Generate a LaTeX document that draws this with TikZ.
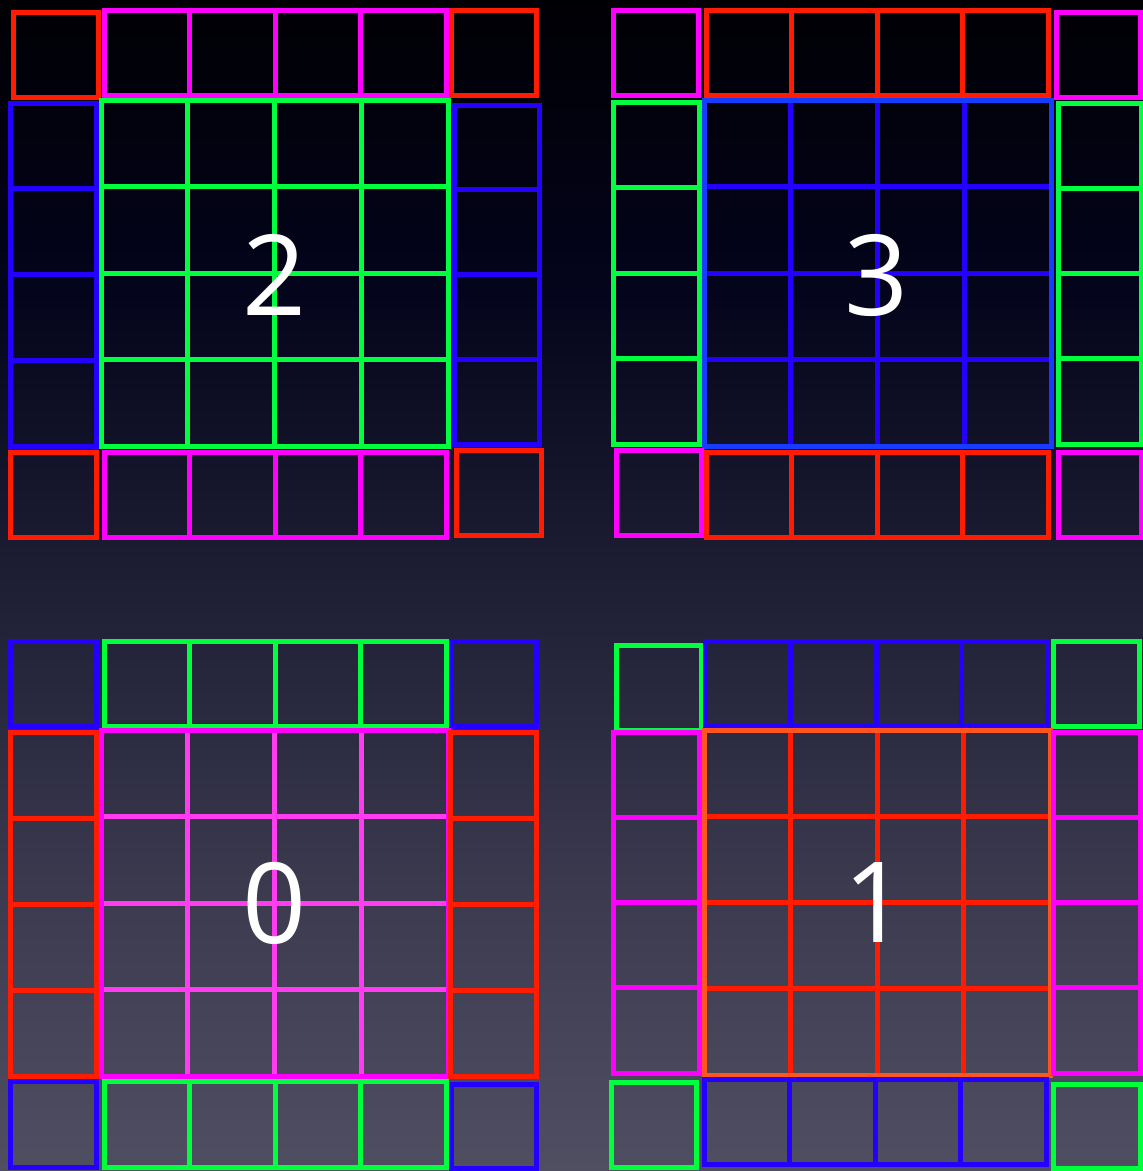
\documentclass[tikz,border=0pt]{standalone}
\usepackage{fontspec}
\setmainfont{Open Sans}
\definecolor{cred}{RGB}{255,28,0}
\definecolor{cmag}{RGB}{255,0,255}
\definecolor{cmagl}{RGB}{255,60,240}
\definecolor{cgreen}{RGB}{0,255,60}
\definecolor{cblue}{RGB}{36,0,255}
\definecolor{cbluel}{RGB}{24,60,255}
\definecolor{corange}{RGB}{255,85,30}
\definecolor{bgtop}{RGB}{0,0,4}
\definecolor{bgq}{RGB}{4,4,28}
\definecolor{bgmid}{RGB}{30,30,52}
\definecolor{bgl}{RGB}{58,57,78}
\definecolor{bgbot}{RGB}{80,79,98}
\pgfdeclareverticalshading{bgshade}{100bp}{color(0bp)=(bgbot); color(25bp)=(bgbot); color(37.5bp)=(bgl); color(50bp)=(bgmid); color(62.5bp)=(bgq); color(75bp)=(bgtop); color(100bp)=(bgtop)}
\newcommand\myhrow[5]{%
  \draw[#1] (#2,#3) rectangle (#4,#5);
  \foreach \i in {1,2,3}{\draw[#1] ({#2+(#4-#2)*\i/4},#3) -- ({#2+(#4-#2)*\i/4},#5);}%
}
\newcommand\myvcol[5]{%
  \draw[#1] (#2,#3) rectangle (#4,#5);
  \foreach \i in {1,2,3}{\draw[#1] (#2,{#3+(#5-#3)*\i/4}) -- (#4,{#3+(#5-#3)*\i/4});}%
}
\newcommand\mygrid[6]{% inner color, outer color, x1,y1,x2,y2
  \foreach \i in {1,2,3}{%
    \draw[#1] ({#3+(#5-#3)*\i/4},#4) -- ({#3+(#5-#3)*\i/4},#6);
    \draw[#1] (#3,{#4+(#6-#4)*\i/4}) -- (#5,{#4+(#6-#4)*\i/4});}%
  \draw[#2] (#3,#4) rectangle (#5,#6);
}
\begin{document}
\begin{tikzpicture}[x=1pt,y=-1pt,line width=5pt,
  lbl/.style={text=white,font=\fontsize{112}{112}\selectfont,inner sep=0pt}]
\shade[shading=bgshade] (0,0) rectangle (1143,1171);
\useasboundingbox (0,0) rectangle (1143,1171);
% Block 2
\draw[cred] (13,12) rectangle (98,97);
\myhrow{cmag}{104}{10}{446}{95}
\draw[cred] (451,10) rectangle (536,95);
\myvcol{cblue}{10}{103}{96}{446}
\mygrid{cgreen}{cgreen}{101}{100}{448}{446}
\myvcol{cblue}{454}{105}{539}{444}
\draw[cred] (10,452) rectangle (96,537);
\myhrow{cmag}{104}{452}{446}{537}
\draw[cred] (456,450) rectangle (541,535);
% Block 3
\draw[cmag] (613,10) rectangle (698,95);
\myhrow{cred}{706}{10}{1048}{95}
\draw[cmag] (1056,12) rectangle (1140,97);
\myvcol{cgreen}{613}{102}{699}{444}
\mygrid{cblue}{cbluel}{704}{100}{1051}{446}
\myvcol{cgreen}{1058}{103}{1141}{444}
\draw[cmag] (616,450) rectangle (701,535);
\myhrow{cred}{706}{452}{1048}{537}
\draw[cmag] (1058,452) rectangle (1141,537);
% Block 0
\draw[cblue] (10,641) rectangle (96,726);
\myhrow{cgreen}{104}{641}{446}{726}
\draw[cblue] (451,641) rectangle (536,726);
\myvcol{cred}{10}{732}{96}{1076}
\mygrid{cmagl}{cmag}{101}{730}{448}{1076}
\myvcol{cred}{450}{732}{536}{1076}
\draw[cblue] (10,1081) rectangle (96,1167);
\myhrow{cgreen}{104}{1081}{446}{1167}
\draw[cblue] (451,1084) rectangle (536,1168);
% Block 1
\draw[cgreen] (616,645) rectangle (701,730);
\myhrow{cblue}{705}{641}{1047}{726}
\draw[cgreen] (1053,641) rectangle (1139,726);
\myvcol{cmag}{613}{732}{699}{1073}
\mygrid{cred}{corange}{704}{730}{1050}{1075}
\myvcol{cmag}{1053}{732}{1140}{1073}
\draw[cgreen] (611,1082) rectangle (696,1167);
\myhrow{cblue}{704}{1079}{1046}{1164}
\draw[cgreen] (1053,1084) rectangle (1140,1168);
% labels
\node[lbl] (l2) at (275,275) {2};
\node[lbl] (l3) at (877,275) {3};
\node[lbl] (l0) at (275,903) {0};
\node[lbl] (l1) at (876,903) {1};
\end{tikzpicture}
\end{document}
